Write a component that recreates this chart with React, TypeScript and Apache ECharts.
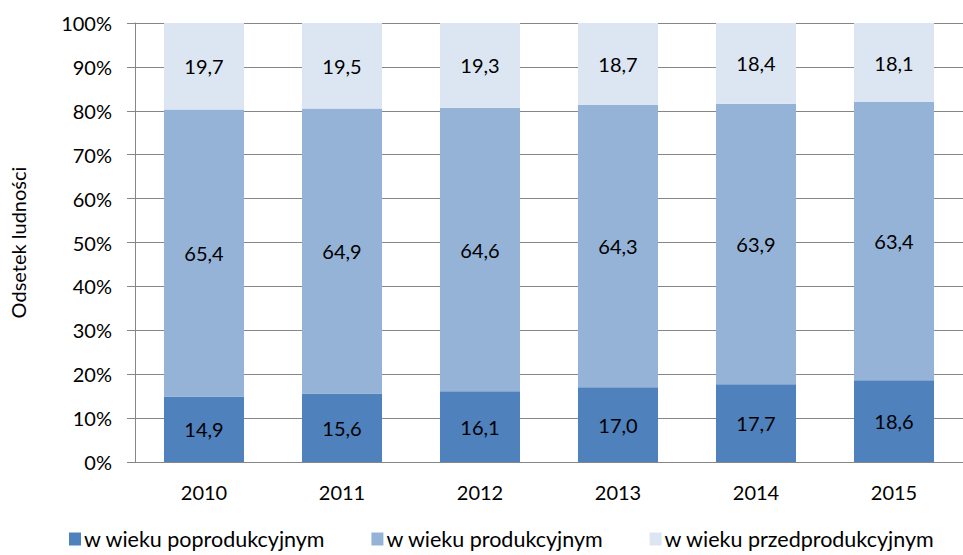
import React, { useEffect, useRef } from "react";
import * as echarts from "echarts";

const categories = ["2010", "2011", "2012", "2013", "2014", "2015"];
const poprodukcyjny = [14.9, 15.6, 16.1, 17.0, 17.7, 18.6];
const produkcyjny = [65.4, 64.9, 64.6, 64.3, 63.9, 63.4];
const przedprodukcyjny = [19.7, 19.5, 19.3, 18.7, 18.4, 18.1];
const seriesNames = ["w wieku poprodukcyjnym", "w wieku produkcyjnym", "w wieku przedprodukcyjnym"];
const colors = ["#4F81BD", "#95B3D7", "#DCE6F2"];

const FONT = "Lato, 'Open Sans', sans-serif";

export default function App() {
  const ref = useRef<HTMLDivElement>(null);
  useEffect(() => {
    if (!ref.current) return;
    const chart = echarts.init(ref.current, undefined, { renderer: "svg" });
    const label = {
      show: true,
      position: "inside",
      color: "#000",
      fontSize: 20,
      fontFamily: FONT,
      formatter: (p: any) => Number(p.value).toFixed(1).replace(".", ","),
    };
    const datasets = [poprodukcyjny, produkcyjny, przedprodukcyjny];
    chart.setOption({
      animation: false,
      textStyle: { fontFamily: FONT },
      grid: {
        left: 135,
        right: 0,
        top: 23,
        bottom: 93,
        containLabel: false,
        outerBoundsMode: "none",
      },
      legend: {
        bottom: 0,
        left: 64,
        itemWidth: 12,
        itemHeight: 13,
        itemGap: 46,
        icon: "rect",
        textStyle: { fontSize: 21.5, color: "#000", fontFamily: FONT, padding: [0, 0, 0, -2] },
        data: seriesNames,
      },
      xAxis: {
        type: "category",
        data: categories,
        axisLine: { show: true, lineStyle: { color: "#868686", width: 1 } },
        axisTick: { show: false },
        axisLabel: { fontSize: 20, color: "#000", margin: 20, fontFamily: FONT },
      },
      yAxis: {
        type: "value",
        min: 0,
        max: 100,
        interval: 10,
        name: "Odsetek ludności",
        nameLocation: "middle",
        nameRotate: 90,
        nameGap: 107,
        nameTextStyle: { fontSize: 20, color: "#000", fontFamily: FONT },
        axisLine: { show: true, lineStyle: { color: "#868686", width: 1 } },
        axisTick: { show: true, length: 8, lineStyle: { color: "#868686" } },
        axisLabel: { fontSize: 20, color: "#000", margin: 23, formatter: "{value}%", fontFamily: FONT },
        splitLine: { show: true, lineStyle: { color: "#868686", width: 1 } },
      },
      series: datasets.map((d, i) => ({
        name: seriesNames[i],
        type: "bar",
        stack: "total",
        data: d,
        barCategoryGap: "42%",
        itemStyle: { color: colors[i] },
        label,
      })),
    });
    return () => chart.dispose();
  }, []);
  return (
    <div
      ref={ref}
      style={{ position: "fixed", left: 0, top: 0, width: 963, height: 555, background: "#fff" }}
    />
  );
}
